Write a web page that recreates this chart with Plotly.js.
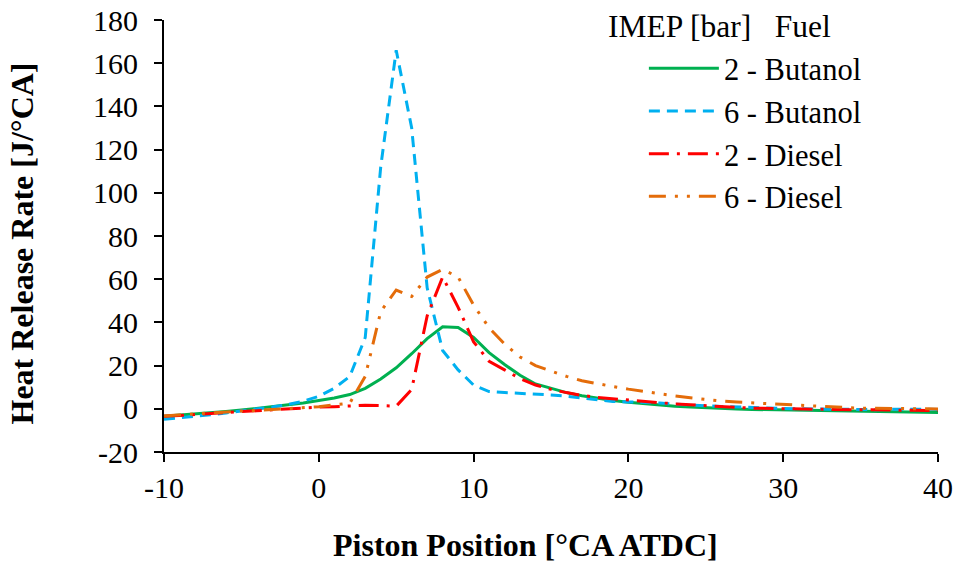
<!DOCTYPE html>
<html>
<head>
<meta charset="utf-8">
<script src="https://cdn.plot.ly/plotly-3.0.1.min.js"></script>
<style>html,body{margin:0;padding:0;background:#fff;}#chart{width:959px;height:563px;}</style>
</head>
<body>
<div id="chart"></div>
<script>
// Crank angle [°CA ATDC]
const crankAngle = [-10,-9,-8,-7,-6,-5,-4,-3,-2,-1,0,1,2,3,4,5,6,7,8,9,10,11,12,13,14,15,16,17,18,19,20,21,22,23,24,25,26,27,28,29,30,31,32,33,34,35,36,37,38,39,40];

const seriesNames = ["2 - Butanol", "6 - Butanol", "2 - Diesel", "6 - Diesel"];

// Heat release rate [J/°CA]
const butanol2 = [-3.5,-3.0,-2.5,-2.0,-1.3,-0.6,0.2,1.0,1.8,2.7,3.8,5.0,6.6,9.5,13.8,19.0,25.5,32.5,38.0,37.6,33.0,26.0,20.5,15.5,11.5,9.4,7.5,6.0,4.8,3.8,3.0,2.3,1.7,1.2,0.8,0.4,0.1,-0.1,-0.3,-0.4,-0.5,-0.6,-0.7,-0.8,-0.9,-1.0,-1.1,-1.3,-1.4,-1.5,-1.7];
const butanol6 = [-4.8,-4.2,-3.6,-2.8,-1.9,-1.0,-0.2,0.8,2.0,3.5,5.8,9.5,15.0,33.0,112.0,166.0,130.0,56.0,27.0,18.0,11.0,8.0,7.5,7.2,6.8,6.4,5.8,5.0,4.0,3.4,3.2,3.0,2.7,2.2,1.7,1.4,1.1,0.8,0.5,0.3,0.1,0.0,-0.1,-0.2,-0.3,-0.4,-0.4,-0.2,-0.1,-0.2,-0.3];
const diesel2 = [-3.5,-3.0,-2.6,-2.2,-1.8,-1.3,-0.9,-0.4,0.0,0.4,0.8,1.0,1.3,1.6,1.5,1.2,9.0,43.0,61.0,47.0,31.0,22.0,18.0,14.0,11.0,9.0,7.5,6.2,5.3,4.6,4.0,3.3,2.8,2.3,1.8,1.4,1.0,0.6,0.3,0.1,0.0,-0.1,-0.2,-0.3,-0.4,-0.5,-0.5,-0.6,-0.7,-0.8,-0.8];
const diesel6 = [-3.3,-2.8,-2.3,-1.8,-1.4,-1.0,-0.8,-0.4,0.0,0.4,1.0,1.8,2.6,15.0,45.0,55.0,52.0,61.0,64.5,61.0,48.0,37.5,30.0,24.0,20.0,17.5,15.0,13.0,11.5,10.3,9.1,8.0,6.8,6.0,5.1,4.3,3.6,3.1,2.7,2.3,1.9,1.5,1.1,0.9,0.6,0.3,0.3,0.2,0.1,0.0,-0.1];

const xTicks = [-10,0,10,20,30,40];
const yTicks = [-20,0,20,40,60,80,100,120,140,160,180];

const FONT = "Liberation Serif, Times New Roman, serif";

const styles = [
  {color: "#00B050", dash: "solid"},
  {color: "#00B0F0", dash: "11px,7px"},
  {color: "#FF0000", dash: "20px,8px,3px,8px"},
  {color: "#E46C0A", dash: "17px,9px,3px,9px,3px,9px"}
];
const values = [butanol2, butanol6, diesel2, diesel6];

const traces = values.map((v, i) => ({
  type: "scatter",
  mode: "lines",
  name: seriesNames[i],
  x: crankAngle,
  y: v,
  line: {color: styles[i].color, dash: styles[i].dash, width: 3}
}));

const axisCommon = {
  showline: true, linecolor: "#000", linewidth: 2,
  ticks: "outside", ticklen: 8, tickwidth: 2, tickcolor: "#000",
  showgrid: false, zeroline: false,
  tickfont: {family: FONT, size: 30, color: "#000"}
};

const layout = {
  width: 959, height: 563,
  paper_bgcolor: "#fff", plot_bgcolor: "#fff",
  margin: {l: 164, r: 21, t: 20, b: 111},
  showlegend: true,
  legend: {
    x: 0.62, y: 0.949, xanchor: "left", yanchor: "top",
    bgcolor: "rgba(0,0,0,0)",
    font: {family: FONT, size: 30.5, color: "#000"},
    itemwidth: 70, tracegroupgap: 0
  },
  xaxis: Object.assign({}, axisCommon, {range: [-10, 40], tickvals: xTicks, ticktext: xTicks.map(String)}),
  yaxis: Object.assign({}, axisCommon, {range: [-20, 180], tickvals: yTicks, ticktext: yTicks.map(String), ticklabelstandoff: 10}),
  annotations: [
    {xref: "paper", yref: "paper", x: 0.467, y: -0.215, xanchor: "center", yanchor: "middle", showarrow: false,
     text: "<b>Piston Position [°CA ATDC]</b>", font: {family: FONT, size: 32, color: "#000"}},
    {xref: "paper", yref: "paper", x: -0.1835, y: 0.4826, xanchor: "center", yanchor: "middle", showarrow: false, textangle: -90,
     text: "<b>Heat Release Rate [J/°CA]</b>", font: {family: FONT, size: 32, color: "#000"}},
    {xref: "paper", yref: "paper", x: 0.5705, y: 0.984, xanchor: "left", yanchor: "middle", showarrow: false,
     text: "IMEP [bar]\u00A0\u00A0\u00A0Fuel", font: {family: FONT, size: 31.5, color: "#000"}}
  ]
};

Plotly.newPlot("chart", traces, layout, {displayModeBar: false, staticPlot: true});
</script>
</body>
</html>
